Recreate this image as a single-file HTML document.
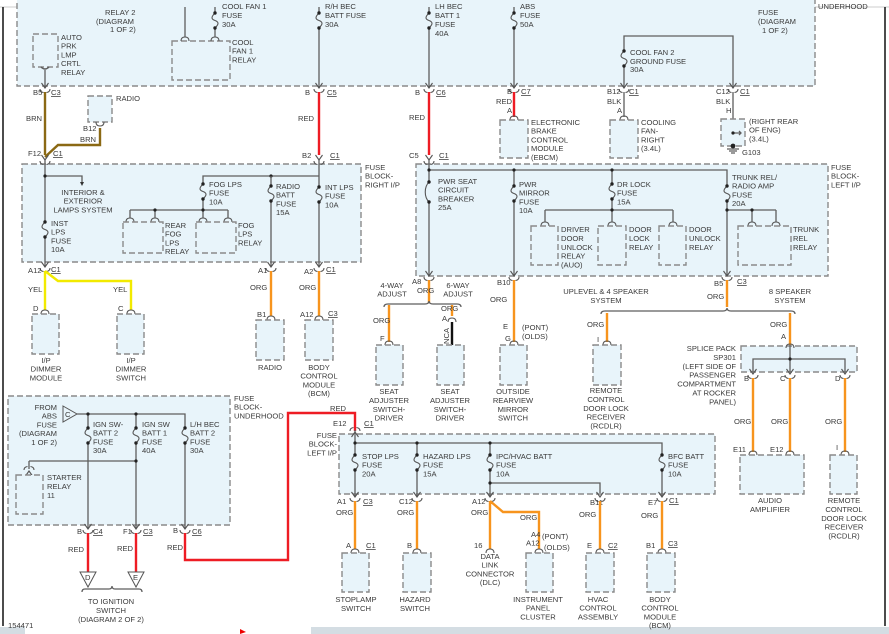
<!DOCTYPE html>
<html><head><meta charset="utf-8"><style>
html,body{margin:0;padding:0;background:#fff;}
svg{display:block;}
text{font-family:"Liberation Sans",sans-serif;font-size:7.6px;fill:#3a3a3a;}
.b{fill:#e8f4fa;stroke:#8a8a8a;stroke-width:1.4;stroke-dasharray:6,3;}
.w{stroke:#5e5e5e;stroke-width:1.3;fill:none;}
.r{stroke:#ee1c24;stroke-width:2.4;fill:none;}
.o{stroke:#f7941d;stroke-width:2.4;fill:none;}
.y{stroke:#f2ea00;stroke-width:2.4;fill:none;}
.n{stroke:#8b6914;stroke-width:2.4;fill:none;}
.k{stroke:#111;stroke-width:2.4;fill:none;}
.u{text-decoration:underline;}
</style></head><body>
<svg width="889" height="634" viewBox="0 0 889 634" xmlns="http://www.w3.org/2000/svg">
<defs>
<g id="f"><rect x="-2" y="1" width="4" height="13" fill="#e8f4fa"/><path d="M0,0 C-4,4 -4,6 0,7.5 C4,9 4,11 0,15" fill="none" stroke="#555" stroke-width="1.1"/><circle r="1.7" cy="0" fill="#222"/><circle r="1.7" cy="15" fill="#222"/></g>
<g id="c" fill="none" stroke="#555" stroke-width="1.1"><path d="M-3.5,-5 L0,0 L3.5,-5"/><path d="M-5,1 Q-5,4 -1.5,4.5 M5,1 Q5,4 1.5,4.5"/></g>
<g id="t" fill="none" stroke="#555" stroke-width="1.1"><path d="M-4,0 Q-4,-4 0,-4 Q4,-4 4,0"/></g>
<g id="cb"><rect x="-2" y="1" width="4" height="18" fill="#e8f4fa"/><path d="M0,0 C-5,5 -5,15 0,20" fill="none" stroke="#555" stroke-width="1.1"/><circle r="1.7" cy="0" fill="#222"/><circle r="1.7" cy="20" fill="#222"/></g>
</defs>
<rect x="0" y="0" width="889" height="634" fill="#fff"/>
<line x1="0" y1="7" x2="889" y2="7" stroke="#ccc"/>
<line x1="3" y1="7" x2="3" y2="626" stroke="#111" stroke-width="1.5"/>
<line x1="885" y1="7" x2="885" y2="626" stroke="#111" stroke-width="1.5"/>
<rect x="0" y="627" width="889" height="7" fill="#d4dde3"/>
<rect x="25" y="627" width="286" height="7" fill="#fff"/>
<path d="M240,629 l6,3 l-6,2z" fill="#e00"/>

<rect class="b" x="17" y="-5" width="798" height="91"/>
<text x="105" y="15">RELAY 2</text><text x="96" y="24">(DIAGRAM</text><text x="110" y="32">1 OF 2)</text>
<rect class="b" x="33" y="34" width="25" height="33"/>
<text x="61" y="40">AUTO<tspan x="61" dy="8.7">PRK</tspan><tspan x="61" dy="8.7">LMP</tspan><tspan x="61" dy="8.7">CRTL</tspan><tspan x="61" dy="8.7">RELAY</tspan></text>
<path class="w" d="M45,70 V88"/><use href="#c" x="45" y="88"/>
<path d="M41,67 q4,4 8,0" class="w"/>
<rect class="b" x="172" y="41" width="58" height="39"/>
<text x="232" y="45">COOL<tspan x="232" dy="8.7">FAN 1</tspan><tspan x="232" dy="8.7">RELAY</tspan></text>
<path class="w" d="M185,7 V37 M215,7 V37"/><use href="#t" x="185" y="41"/><use href="#t" x="215" y="41"/>
<use href="#f" x="215" y="13"/>
<text x="222" y="9">COOL FAN 1</text><text x="222" y="18">FUSE</text><text x="222" y="27">30A</text>
<path class="w" d="M319,7 V88"/><use href="#f" x="319" y="13"/><use href="#c" x="319" y="88"/>
<text x="325" y="9">R/H BEC</text><text x="325" y="18">BATT FUSE</text><text x="325" y="27">30A</text>
<path class="w" d="M429,7 V88"/><use href="#f" x="429" y="13"/><use href="#c" x="429" y="88"/>
<text x="435" y="9">LH BEC</text><text x="435" y="18">BATT 1</text><text x="435" y="27">FUSE</text><text x="435" y="36">40A</text>
<path class="w" d="M514,7 V88"/><use href="#f" x="514" y="13"/><use href="#c" x="514" y="88"/>
<text x="520" y="9">ABS</text><text x="520" y="18">FUSE</text><text x="520" y="27">50A</text>
<path class="w" d="M624,88 V36 H733 V88"/><use href="#f" x="624" y="51"/><use href="#c" x="624" y="88"/><use href="#c" x="733" y="88"/>
<text x="630" y="55">COOL FAN 2</text><text x="630" y="64">GROUND FUSE</text><text x="630" y="72">30A</text>
<text x="758" y="15">FUSE</text><text x="758" y="24">(DIAGRAM</text><text x="762" y="33">1 OF 2)</text>
<text x="818" y="9">UNDERHOOD</text>

<text x="33" y="95">B5</text><text x="51" y="95" class="u">C3</text>
<path class="n" d="M45,92 V155"/><text x="26" y="121">BRN</text>
<rect class="b" x="88" y="96" width="24" height="26"/><text x="116" y="101">RADIO</text>
<text x="83" y="131">B12</text><use href="#t" x="100" y="130" transform="rotate(180 100 126)"/>
<path class="n" d="M100,128 V145 H58 L45,157"/><text x="80" y="142">BRN</text>
<text x="28" y="156">F12</text><text x="53" y="156" class="u">C1</text>
<text x="305" y="95">B</text><text x="327" y="95" class="u">C5</text>
<path class="r" d="M319,92 V155"/><text x="298" y="121">RED</text>
<text x="302" y="158">B2</text><text x="330" y="158" class="u">C1</text>
<text x="415" y="95">B</text><text x="436" y="95" class="u">C6</text>
<path class="r" d="M429,92 V155"/><text x="409" y="120">RED</text>
<text x="409" y="158">C5</text><text x="439" y="158" class="u">C1</text>
<text x="507" y="94">B</text><text x="521" y="94" class="u">C7</text>
<text x="496" y="104">RED</text><text x="507" y="113">A</text>
<path class="r" d="M514,92 V117"/><use href="#t" x="514" y="120"/>
<rect class="b" x="500" y="120" width="28" height="38"/>
<text x="531" y="125">ELECTRONIC<tspan x="531" dy="8.7">BRAKE</tspan><tspan x="531" dy="8.7">CONTROL</tspan><tspan x="531" dy="8.7">MODULE</tspan><tspan x="531" dy="8.7">(EBCM)</tspan></text>
<text x="607" y="94">B12</text><text x="629" y="94" class="u">C1</text>
<text x="607" y="104">BLK</text><text x="617" y="113">A</text>
<path class="w" d="M624,92 V117" stroke-width="2"/><use href="#t" x="624" y="120"/>
<rect class="b" x="610" y="120" width="28" height="38"/>
<text x="641" y="125">COOLING<tspan x="641" dy="8.7">FAN-</tspan><tspan x="641" dy="8.7">RIGHT</tspan><tspan x="641" dy="8.7">(3.4L)</tspan></text>
<text x="716" y="94">C12</text><text x="740" y="94" class="u">C1</text>
<text x="716" y="104">BLK</text><text x="726" y="113">H</text>
<path class="w" d="M733,92 V146" stroke-width="2"/>
<rect class="b" x="721" y="119" width="24" height="27" fill="none"/>
<path class="w" d="M733,133 H741 M739,131 l2,2 -2,2"/><circle cx="733" cy="133" r="1.6" fill="#222"/>
<circle cx="733" cy="146" r="2.4" fill="#222"/><path class="w" d="M727,149 H739 M729,151 H737 M731,153 H735"/>
<text x="742" y="155">G103</text>
<text x="749" y="124">(RIGHT REAR<tspan x="749" dy="8.7">OF ENG)</tspan><tspan x="749" dy="8.7">(3.4L)</tspan></text>

<rect class="b" x="22" y="164" width="339" height="98"/>
<text x="365" y="170">FUSE<tspan x="365" dy="8.7">BLOCK-</tspan><tspan x="365" dy="8.7">RIGHT I/P</tspan></text>
<use href="#c" x="45" y="160"/>
<path class="w" d="M45,160 V267 M45,176 H82 V183"/><path d="M80,182 l2,4 2,-4z" fill="#333"/><circle cx="45" cy="176" r="1.6" fill="#222"/>
<text x="83" y="195" text-anchor="middle">INTERIOR &amp;<tspan x="83" dy="8.7">EXTERIOR</tspan><tspan x="83" dy="8.7">LAMPS SYSTEM</tspan></text>
<use href="#f" x="45" y="222"/>
<text x="51" y="226">INST<tspan x="51" dy="8.7">LPS</tspan><tspan x="51" dy="8.7">FUSE</tspan><tspan x="51" dy="8.7">10A</tspan></text>
<path class="w" d="M203,210 V176 H319 M130,210 H228 M130,210 V218 M155,210 V218 M203,210 V218 M228,210 V218"/>
<circle cx="155" cy="210" r="1.6" fill="#222"/><circle cx="203" cy="210" r="1.6" fill="#222"/><circle cx="271" cy="176" r="1.6" fill="#222"/>
<use href="#f" x="203" y="184"/>
<text x="209" y="187">FOG LPS<tspan x="209" dy="8.7">FUSE</tspan><tspan x="209" dy="8.7">10A</tspan></text>
<use href="#t" x="130" y="222"/><use href="#t" x="155" y="222"/><use href="#t" x="203" y="222"/><use href="#t" x="228" y="222"/>
<rect class="b" x="123" y="222" width="40" height="31"/><rect class="b" x="196" y="222" width="40" height="31"/>
<text x="165" y="228">REAR<tspan x="165" dy="8.7">FOG</tspan><tspan x="165" dy="8.7">LPS</tspan><tspan x="165" dy="8.7">RELAY</tspan></text>
<text x="238" y="228">FOG<tspan x="238" dy="8.7">LPS</tspan><tspan x="238" dy="8.7">RELAY</tspan></text>
<path class="w" d="M271,176 V267"/><use href="#f" x="271" y="186"/>
<text x="276" y="189">RADIO<tspan x="276" dy="8.7">BATT</tspan><tspan x="276" dy="8.7">FUSE</tspan><tspan x="276" dy="8.7">15A</tspan></text>
<path class="w" d="M319,160 V267"/><use href="#c" x="319" y="160"/><use href="#f" x="319" y="187"/>
<text x="325" y="190">INT LPS<tspan x="325" dy="8.7">FUSE</tspan><tspan x="325" dy="8.7">10A</tspan></text>
<use href="#c" x="45" y="267"/><use href="#c" x="271" y="267"/><use href="#c" x="319" y="267"/>
<text x="28" y="273">A12</text><text x="51" y="272" class="u">C1</text>
<text x="258" y="273">A1</text><text x="304" y="274">A2</text><text x="326" y="272" class="u">C1</text>
<path class="y" d="M45,271 V310 M45,271 L58,281 H131 V310"/>
<text x="28" y="292">YEL</text><text x="113" y="292">YEL</text>
<text x="33" y="311">D</text><text x="118" y="311">C</text>
<use href="#t" x="45" y="314"/><use href="#t" x="131" y="314"/>
<rect class="b" x="32" y="314" width="27" height="40"/><rect class="b" x="117" y="314" width="27" height="40"/>
<text x="46" y="363" text-anchor="middle">I/P<tspan x="46" dy="8.7">DIMMER</tspan><tspan x="46" dy="8.7">MODULE</tspan></text>
<text x="131" y="363" text-anchor="middle">I/P<tspan x="131" dy="8.7">DIMMER</tspan><tspan x="131" dy="8.7">SWITCH</tspan></text>
<path class="o" d="M271,271 V316 M319,271 V316"/>
<text x="250" y="290">ORG</text><text x="299" y="290">ORG</text>
<text x="257" y="317">B1</text><text x="300" y="317">A12</text><text x="328" y="316" class="u">C3</text>
<use href="#t" x="271" y="320"/><use href="#t" x="319" y="320"/>
<rect class="b" x="256" y="320" width="28" height="40"/><rect class="b" x="305" y="320" width="28" height="40"/>
<text x="270" y="370" text-anchor="middle">RADIO</text>
<text x="319" y="370" text-anchor="middle">BODY<tspan x="319" dy="8.7">CONTROL</tspan><tspan x="319" dy="8.7">MODULE</tspan><tspan x="319" dy="8.7">(BCM)</tspan></text>

<rect class="b" x="416" y="164" width="412" height="112"/>
<text x="831" y="170">FUSE<tspan x="831" dy="8.7">BLOCK-</tspan><tspan x="831" dy="8.7">LEFT I/P</tspan></text>
<use href="#c" x="429" y="160"/>
<path class="w" d="M429,160 V276 M429,170 H727 V276 M514,170 V276 M612,170 V210 M545,210 H673 M545,210 V222 M612,210 V222 M673,210 V222 M727,210 H776 M752,210 V222 M776,210 V222"/>
<circle cx="429" cy="170" r="1.6" fill="#222"/><circle cx="514" cy="170" r="1.6" fill="#222"/><circle cx="612" cy="170" r="1.6" fill="#222"/><circle cx="612" cy="210" r="1.6" fill="#222"/><circle cx="727" cy="210" r="1.6" fill="#222"/><circle cx="752" cy="210" r="1.6" fill="#222"/>
<use href="#cb" x="429" y="182"/>
<text x="438" y="184">PWR SEAT<tspan x="438" dy="8.7">CIRCUIT</tspan><tspan x="438" dy="8.7">BREAKER</tspan><tspan x="438" dy="8.7">25A</tspan></text>
<use href="#f" x="514" y="186"/>
<text x="519" y="187">PWR<tspan x="519" dy="8.7">MIRROR</tspan><tspan x="519" dy="8.7">FUSE</tspan><tspan x="519" dy="8.7">10A</tspan></text>
<use href="#f" x="612" y="184"/>
<text x="617" y="187">DR LOCK<tspan x="617" dy="8.7">FUSE</tspan><tspan x="617" dy="8.7">15A</tspan></text>
<use href="#f" x="727" y="186"/>
<text x="732" y="180">TRUNK REL/<tspan x="732" dy="8.7">RADIO AMP</tspan><tspan x="732" dy="8.7">FUSE</tspan><tspan x="732" dy="8.7">20A</tspan></text>
<use href="#t" x="545" y="226"/><use href="#t" x="612" y="226"/><use href="#t" x="673" y="226"/><use href="#t" x="752" y="226"/><use href="#t" x="776" y="226"/>
<rect class="b" x="531" y="226" width="27" height="39"/><rect class="b" x="598" y="226" width="28" height="39"/><rect class="b" x="659" y="226" width="27" height="39"/><rect class="b" x="738" y="226" width="53" height="39"/>
<text x="561" y="232">DRIVER<tspan x="561" dy="8.9">DOOR</tspan><tspan x="561" dy="8.9">UNLOCK</tspan><tspan x="561" dy="8.9">RELAY</tspan><tspan x="561" dy="8.9">(AUO)</tspan></text>
<text x="629" y="232">DOOR<tspan x="629" dy="8.9">LOCK</tspan><tspan x="629" dy="8.9">RELAY</tspan></text>
<text x="689" y="232">DOOR<tspan x="689" dy="8.9">UNLOCK</tspan><tspan x="689" dy="8.9">RELAY</tspan></text>
<text x="793" y="232">TRUNK<tspan x="793" dy="8.9">REL</tspan><tspan x="793" dy="8.9">RELAY</tspan></text>
<use href="#c" x="429" y="276"/><use href="#c" x="514" y="276"/><use href="#c" x="727" y="276"/>
<text x="412" y="284">A8</text><text x="497" y="285">B10</text><text x="714" y="286">B5</text><text x="737" y="284" class="u">C3</text>
<path class="o" d="M429,280 V303 M514,280 V342 M727,280 V307"/>
<text x="417" y="293">ORG</text><text x="490" y="302">ORG</text><text x="707" y="299">ORG</text>
<text x="392" y="288" text-anchor="middle">4-WAY<tspan x="392" dy="8.7">ADJUST</tspan></text>
<text x="458" y="288" text-anchor="middle">6-WAY<tspan x="458" dy="8.7">ADJUST</tspan></text>
<path class="w" d="M384,307 Q384,304 388,304 H425 Q429,304 429,301 Q429,304 433,304 H457 Q461,304 461,307" stroke-width="1"/>
<path class="o" d="M389,305 V342 M452,305 V316"/>
<path class="k" d="M452,322 V345"/><use href="#t" x="452" y="322"/>
<text x="373" y="323">ORG</text><text x="441" y="311">ORG</text><text x="442" y="321">A</text>
<text x="449" y="344" transform="rotate(-90 449 344)" font-size="6.5">NCA</text>
<text x="380" y="341">F</text><use href="#t" x="389" y="345"/>
<rect class="b" x="376" y="345" width="27" height="40"/><rect class="b" x="437" y="345" width="27" height="40"/>
<text x="389" y="394" text-anchor="middle">SEAT<tspan x="389" dy="8.9">ADJUSTER</tspan><tspan x="389" dy="8.9">SWITCH-</tspan><tspan x="389" dy="8.9">DRIVER</tspan></text>
<text x="450" y="394" text-anchor="middle">SEAT<tspan x="450" dy="8.9">ADJUSTER</tspan><tspan x="450" dy="8.9">SWITCH-</tspan><tspan x="450" dy="8.9">DRIVER</tspan></text>
<text x="503" y="329">E</text><text x="505" y="341" font-size="7">G</text><use href="#t" x="514" y="345"/>
<text x="522" y="330">(PONT)<tspan x="522" dy="9">(OLDS)</tspan></text>
<rect class="b" x="500" y="345" width="27" height="40"/>
<text x="513" y="394" text-anchor="middle">OUTSIDE<tspan x="513" dy="8.9">REARVIEW</tspan><tspan x="513" dy="8.9">MIRROR</tspan><tspan x="513" dy="8.9">SWITCH</tspan></text>
<text x="606" y="294" text-anchor="middle">UPLEVEL &amp; 4 SPEAKER<tspan x="606" dy="8.9">SYSTEM</tspan></text>
<text x="790" y="294" text-anchor="middle">8 SPEAKER<tspan x="790" dy="8.9">SYSTEM</tspan></text>
<path class="w" d="M601,314 Q601,311 605,311 H723 Q727,311 727,308 Q727,311 731,311 H791 Q795,311 795,314" stroke-width="1"/>
<path class="o" d="M607,313 V342 M790,313 V345"/>
<text x="587" y="327">ORG</text><text x="770" y="327">ORG</text>
<text x="597" y="342">I</text><text x="781" y="339">A</text><use href="#t" x="607" y="345"/>
<rect class="b" x="593" y="345" width="28" height="40"/>
<text x="606" y="393" text-anchor="middle">REMOTE<tspan x="606" dy="8.9">CONTROL</tspan><tspan x="606" dy="8.9">DOOR LOCK</tspan><tspan x="606" dy="8.9">RECEIVER</tspan><tspan x="606" dy="8.9">(RCDLR)</tspan></text>
<rect class="b" x="741" y="346" width="116" height="26"/>
<use href="#t" x="790" y="348"/>
<path class="w" d="M790,345 V372 M753,372 V359 H845 V372"/><circle cx="790" cy="359" r="1.6" fill="#222"/>
<use href="#c" x="753" y="374"/><use href="#c" x="790" y="374"/><use href="#c" x="845" y="374"/>
<text x="736" y="351" text-anchor="end">SPLICE PACK<tspan x="736" dy="8.9">SP301</tspan><tspan x="736" dy="8.9">(LEFT SIDE OF</tspan><tspan x="736" dy="8.9">PASSENGER</tspan><tspan x="736" dy="8.9">COMPARTMENT</tspan><tspan x="736" dy="8.9">AT ROCKER</tspan><tspan x="736" dy="8.9">PANEL)</tspan></text>
<text x="744" y="381">B</text><text x="780" y="381">C</text><text x="835" y="381">D</text>
<path class="o" d="M753,378 V452 M790,378 V452 M845,378 V452"/>
<text x="734" y="424">ORG</text><text x="771" y="424">ORG</text><text x="825" y="424">ORG</text>
<text x="733" y="452">E11</text><text x="770" y="452">E12</text><text x="836" y="450">I</text>
<use href="#t" x="753" y="455"/><use href="#t" x="790" y="455"/><use href="#t" x="845" y="455"/>
<rect class="b" x="740" y="455" width="64" height="39"/><rect class="b" x="830" y="455" width="27" height="39"/>
<text x="770" y="503" text-anchor="middle">AUDIO<tspan x="770" dy="8.9">AMPLIFIER</tspan></text>
<text x="844" y="503" text-anchor="middle">REMOTE<tspan x="844" dy="8.9">CONTROL</tspan><tspan x="844" dy="8.9">DOOR LOCK</tspan><tspan x="844" dy="8.9">RECEIVER</tspan><tspan x="844" dy="8.9">(RCDLR)</tspan></text>

<rect class="b" x="8" y="396" width="222" height="129"/>
<text x="234" y="401">FUSE<tspan x="234" dy="8.7">BLOCK-</tspan><tspan x="234" dy="8.7">UNDERHOOD</tspan></text>
<text x="57" y="410" text-anchor="end">FROM<tspan x="57" dy="8.7">ABS</tspan><tspan x="57" dy="8.7">FUSE</tspan><tspan x="57" dy="8.7">(DIAGRAM</tspan><tspan x="57" dy="8.7">1 OF 2)</tspan></text>
<path d="M63,406 L77,414 L63,422 Z" fill="none" stroke="#555"/><text x="65" y="417" font-size="7">C</text>
<path class="w" d="M77,414 H185 V529 M88,414 V529 M136,414 V529 M29,461 H136 M29,461 V469"/>
<circle cx="88" cy="414" r="1.6" fill="#222"/><circle cx="136" cy="414" r="1.6" fill="#222"/><circle cx="136" cy="461" r="1.6" fill="#222"/>
<use href="#f" x="88" y="428"/><use href="#f" x="136" y="428"/><use href="#f" x="185" y="428"/>
<text x="93" y="427">IGN SW-<tspan x="93" dy="8.7">BATT 2</tspan><tspan x="93" dy="8.7">FUSE</tspan><tspan x="93" dy="8.7">30A</tspan></text>
<text x="142" y="427">IGN SW<tspan x="142" dy="8.7">BATT 1</tspan><tspan x="142" dy="8.7">FUSE</tspan><tspan x="142" dy="8.7">40A</tspan></text>
<text x="190" y="427">L/H BEC<tspan x="190" dy="8.7">BATT 2</tspan><tspan x="190" dy="8.7">FUSE</tspan><tspan x="190" dy="8.7">30A</tspan></text>
<use href="#c" x="29" y="471" transform="rotate(180 29 471)"/>
<rect class="b" x="16" y="475" width="27" height="39"/>
<text x="47" y="480">STARTER<tspan x="47" dy="8.9">RELAY</tspan><tspan x="47" dy="8.9">11</tspan></text>
<use href="#c" x="88" y="529"/><use href="#c" x="136" y="529"/><use href="#c" x="185" y="529"/>
<text x="77" y="534">B</text><text x="93" y="534" class="u">C4</text>
<text x="123" y="534">F1</text><text x="143" y="534" class="u">C3</text>
<text x="173" y="533">B</text><text x="192" y="534" class="u">C6</text>
<path class="r" d="M88,533 V572 M136,533 V572"/>
<path class="r" d="M185,533 V560 H288 V413 H355 V431"/>
<text x="68" y="552">RED</text><text x="117" y="551">RED</text><text x="167" y="550">RED</text>
<path d="M80,572 H96 L88,587 Z M128,572 H144 L136,587 Z" fill="none" stroke="#555"/>
<text x="85" y="580" font-size="7">D</text><text x="133" y="580" font-size="7">E</text>
<path class="w" d="M82,592 Q82,589 85,589 H109 Q112,589 112,586 Q112,589 115,589 H139 Q142,589 142,592" stroke-width="1"/>
<text x="111" y="604" text-anchor="middle">TO IGNITION<tspan x="111" dy="8.9">SWITCH</tspan><tspan x="111" dy="8.9">(DIAGRAM 2 OF 2)</tspan></text>
<text x="8" y="628">154471</text>

<text x="330" y="411">RED</text>
<text x="333" y="426">E12</text><text x="364" y="426" class="u">C1</text>
<text x="337" y="438" text-anchor="end">FUSE<tspan x="337" dy="8.7">BLOCK-</tspan><tspan x="337" dy="8.7">LEFT I/P</tspan></text>
<rect class="b" x="339" y="434" width="376" height="60"/>
<use href="#c" x="355" y="432" transform="rotate(180 355 432)"/>
<path class="w" d="M355,430 V497 M355,443 H662 V497 M417,443 V497 M490,443 V497 M490,483 H600 V493"/>
<circle cx="355" cy="443" r="1.6" fill="#222"/><circle cx="417" cy="443" r="1.6" fill="#222"/><circle cx="490" cy="443" r="1.6" fill="#222"/><circle cx="490" cy="483" r="1.6" fill="#222"/>
<use href="#f" x="355" y="455"/><use href="#f" x="417" y="455"/><use href="#f" x="490" y="455"/><use href="#f" x="662" y="455"/>
<text x="362" y="459">STOP LPS<tspan x="362" dy="8.7">FUSE</tspan><tspan x="362" dy="8.7">20A</tspan></text>
<text x="423" y="459">HAZARD LPS<tspan x="423" dy="8.7">FUSE</tspan><tspan x="423" dy="8.7">15A</tspan></text>
<text x="496" y="459">IPC/HVAC BATT<tspan x="496" dy="8.7">FUSE</tspan><tspan x="496" dy="8.7">10A</tspan></text>
<text x="668" y="459">BFC BATT<tspan x="668" dy="8.7">FUSE</tspan><tspan x="668" dy="8.7">10A</tspan></text>
<use href="#c" x="355" y="497"/><use href="#c" x="417" y="497"/><use href="#c" x="490" y="497"/><use href="#c" x="600" y="497"/><use href="#c" x="662" y="497"/>
<text x="337" y="504">A1</text><text x="363" y="504" class="u">C3</text>
<text x="399" y="504">C12</text><text x="472" y="504">A12</text><text x="590" y="505">B11</text>
<text x="648" y="505">E7</text><text x="669" y="503" class="u">C1</text>
<path class="o" d="M355,501 V549 M417,501 V549 M490,501 V549 M600,501 V549 M662,501 V549 M490,501 L503,512 H539 V549"/>
<text x="336" y="515">ORG</text><text x="397" y="515">ORG</text><text x="471" y="515">ORG</text><text x="520" y="520">ORG</text><text x="579" y="517">ORG</text><text x="641" y="518">ORG</text>
<text x="346" y="548">A</text><text x="366" y="548" class="u">C1</text>
<text x="407" y="548">B</text><text x="474" y="548">16</text>
<text x="531" y="537">A4<tspan x="526" dy="8.5">A12</tspan></text>
<text x="542" y="539">(PONT)<tspan x="544" dy="11">(OLDS)</tspan></text>
<text x="587" y="548">E</text><text x="608" y="548" class="u">C2</text>
<text x="646" y="548">B1</text><text x="668" y="546" class="u">C3</text>
<use href="#t" x="355" y="553"/><use href="#t" x="417" y="553"/><use href="#t" x="490" y="553"/><use href="#t" x="539" y="553"/><use href="#t" x="600" y="553"/><use href="#t" x="662" y="553"/>
<rect class="b" x="342" y="553" width="27" height="39"/><rect class="b" x="403" y="553" width="28" height="39"/>
<rect class="b" x="526" y="553" width="27" height="39"/><rect class="b" x="586" y="553" width="28" height="39"/><rect class="b" x="647" y="553" width="28" height="39"/>
<text x="356" y="602" text-anchor="middle">STOPLAMP<tspan x="356" dy="8.9">SWITCH</tspan></text>
<text x="415" y="602" text-anchor="middle">HAZARD<tspan x="415" dy="8.9">SWITCH</tspan></text>
<text x="490" y="559" text-anchor="middle">DATA<tspan x="490" dy="8.7">LINK</tspan><tspan x="490" dy="8.7">CONNECTOR</tspan><tspan x="490" dy="8.7">(DLC)</tspan></text>
<text x="538" y="602" text-anchor="middle">INSTRUMENT<tspan x="538" dy="8.7">PANEL</tspan><tspan x="538" dy="8.7">CLUSTER</tspan></text>
<text x="598" y="602" text-anchor="middle">HVAC<tspan x="598" dy="8.7">CONTROL</tspan><tspan x="598" dy="8.7">ASSEMBLY</tspan></text>
<text x="660" y="602" text-anchor="middle">BODY<tspan x="660" dy="8.7">CONTROL</tspan><tspan x="660" dy="8.7">MODULE</tspan><tspan x="660" dy="8.7">(BCM)</tspan></text>
</svg>
</body></html>
